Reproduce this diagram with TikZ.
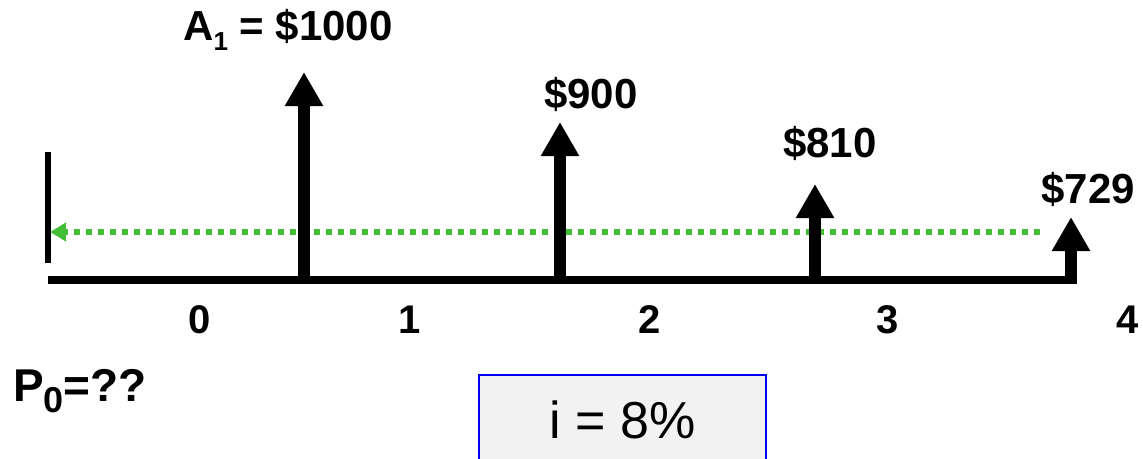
\documentclass[tikz,border=0pt]{standalone}
\usepackage{fontspec}
\setmainfont{Liberation Sans}
\usetikzlibrary{arrows.meta}
\definecolor{dotgreen}{RGB}{68,190,56}
\definecolor{boxgray}{RGB}{242,242,242}
\definecolor{boxblue}{RGB}{0,0,240}
\tikzset{
  cash/.style={line width=12pt, -{Triangle[length=34pt,width=36pt]}},
  big/.style={font=\fontsize{42}{42}\selectfont\bfseries, inner sep=0pt, anchor=base},
  tick/.style={font=\fontsize{40}{40}\selectfont\bfseries, inner sep=0pt, anchor=base},
}
\begin{document}
\begin{tikzpicture}[x=1pt,y=-1pt]
\useasboundingbox (0,0) rectangle (1143,458);
% axis
\coordinate (axL) at (48,280);
\coordinate (axR) at (1077,280);
\draw[line width=8pt] (axL) -- (axR);
% left vertical bar
\coordinate (vT) at (48,152);
\coordinate (vB) at (48,263);
\draw[line width=6pt] (vT) -- (vB);
% green dotted arrow
\coordinate (gR) at (1040,232);
\coordinate (gL) at (50,232);
\draw[dotgreen, line width=6pt, dash pattern=on 6pt off 6pt, -{Triangle[length=16pt,width=18pt]}] (gR) -- (gL);
% cash flow arrows
\coordinate (b1) at (304,284); \coordinate (t1) at (304,72);
\coordinate (b2) at (560,284); \coordinate (t2) at (560,122);
\coordinate (b3) at (815,284); \coordinate (t3) at (815,184);
\coordinate (b4) at (1071,284); \coordinate (t4) at (1071,217);
\draw[cash] (b1) -- (t1);
\draw[cash] (b2) -- (t2);
\draw[cash] (b3) -- (t3);
\draw[cash] (b4) -- (t4);
% labels
\node[big] (l1) at (288,40) {A\raisebox{-10pt}{\fontsize{26}{26}\selectfont 1} = \$1000};
\node[big] (l2) at (591,108) {\$900};
\node[big] (l3) at (830,157) {\$810};
\node[big] (l4) at (1088,203) {\$729};
\node[tick] (n0) at (200,333) {0};
\node[tick] (n1) at (410,333) {1};
\node[tick] (n2) at (650,333) {2};
\node[tick] (n3) at (888,333) {3};
\node[tick] (n4) at (1128,333) {4};
\node[font=\fontsize{46}{46}\selectfont\bfseries, inner sep=0pt, anchor=base west] (p0) at (13,401) {P\raisebox{-11pt}{\fontsize{36}{36}\selectfont 0}=??};
\node[draw=boxblue, line width=1.5pt, fill=boxgray, minimum width=287pt, minimum height=89pt, inner sep=0pt, text height=37pt, text depth=0pt, font=\fontsize{52}{52}\selectfont] (rate) at (622.5,419.5) {i = 8\%};
\end{tikzpicture}
\end{document}
